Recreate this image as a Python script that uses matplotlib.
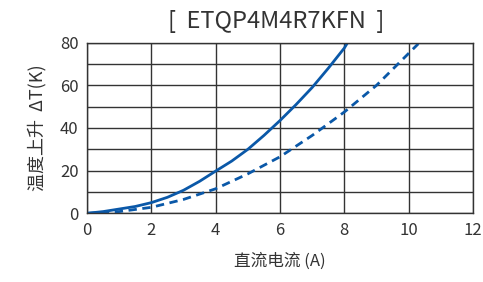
import matplotlib.pyplot as plt

plt.rcParams['font.family'] = ['Noto Sans CJK SC', 'DejaVu Sans']

# Data
x_solid = [0, 0.5, 1, 1.5, 2, 2.5, 3, 3.5, 4, 4.5, 5, 5.5, 6, 6.5, 7, 7.5, 8, 8.1]
y_solid = [0, 0.8, 2, 3.2, 5, 7.5, 10.8, 15, 19.8, 24.5, 30, 36.5, 43.5, 51, 59, 68, 77.5, 80]

x_dash = [0, 1, 2, 3, 4, 5, 6, 7, 8, 9, 10, 10.3]
y_dash = [0, 0.8, 2.8, 6.5, 11.5, 18.5, 26.5, 36.5, 47.5, 60, 75, 79.5]

title = '[  ETQP4M4R7KFN  ]'
xlabel = '直流电流 (A)'
ylabel = '温度上升  ΔT(K)'

color = '#0a58a8'
txt = '#333333'

fig = plt.figure(figsize=(4.83, 2.82), dpi=100)
ax = fig.add_axes([87 / 483, 1 - 213.3 / 282, 386 / 483, 170.6 / 282])

ax.plot(x_solid, y_solid, color=color, lw=2)
ax.plot(x_dash, y_dash, color=color, lw=2, linestyle=(0, (3, 2)))

ax.set_xlim(0, 12)
ax.set_ylim(0, 80)
ax.set_xticks(range(0, 13, 2))
ax.set_yticks(range(0, 81, 20))
ax.set_yticks(range(10, 80, 20), minor=True)
ax.grid(True, which='both', color='#333333', lw=1)
ax.tick_params(which='both', length=0, labelsize=12, colors=txt, pad=6)
for s in ax.spines.values():
    s.set_color('#333333')
    s.set_linewidth(1)

ax.set_xlabel(xlabel, fontsize=12, color=txt, labelpad=10)
ax.set_ylabel(ylabel, fontsize=13, color=txt, labelpad=10)
fig.text(0.572, 0.925, title, ha='center', va='center', fontsize=17, color=txt)

fig.savefig('out.png', dpi=100)
